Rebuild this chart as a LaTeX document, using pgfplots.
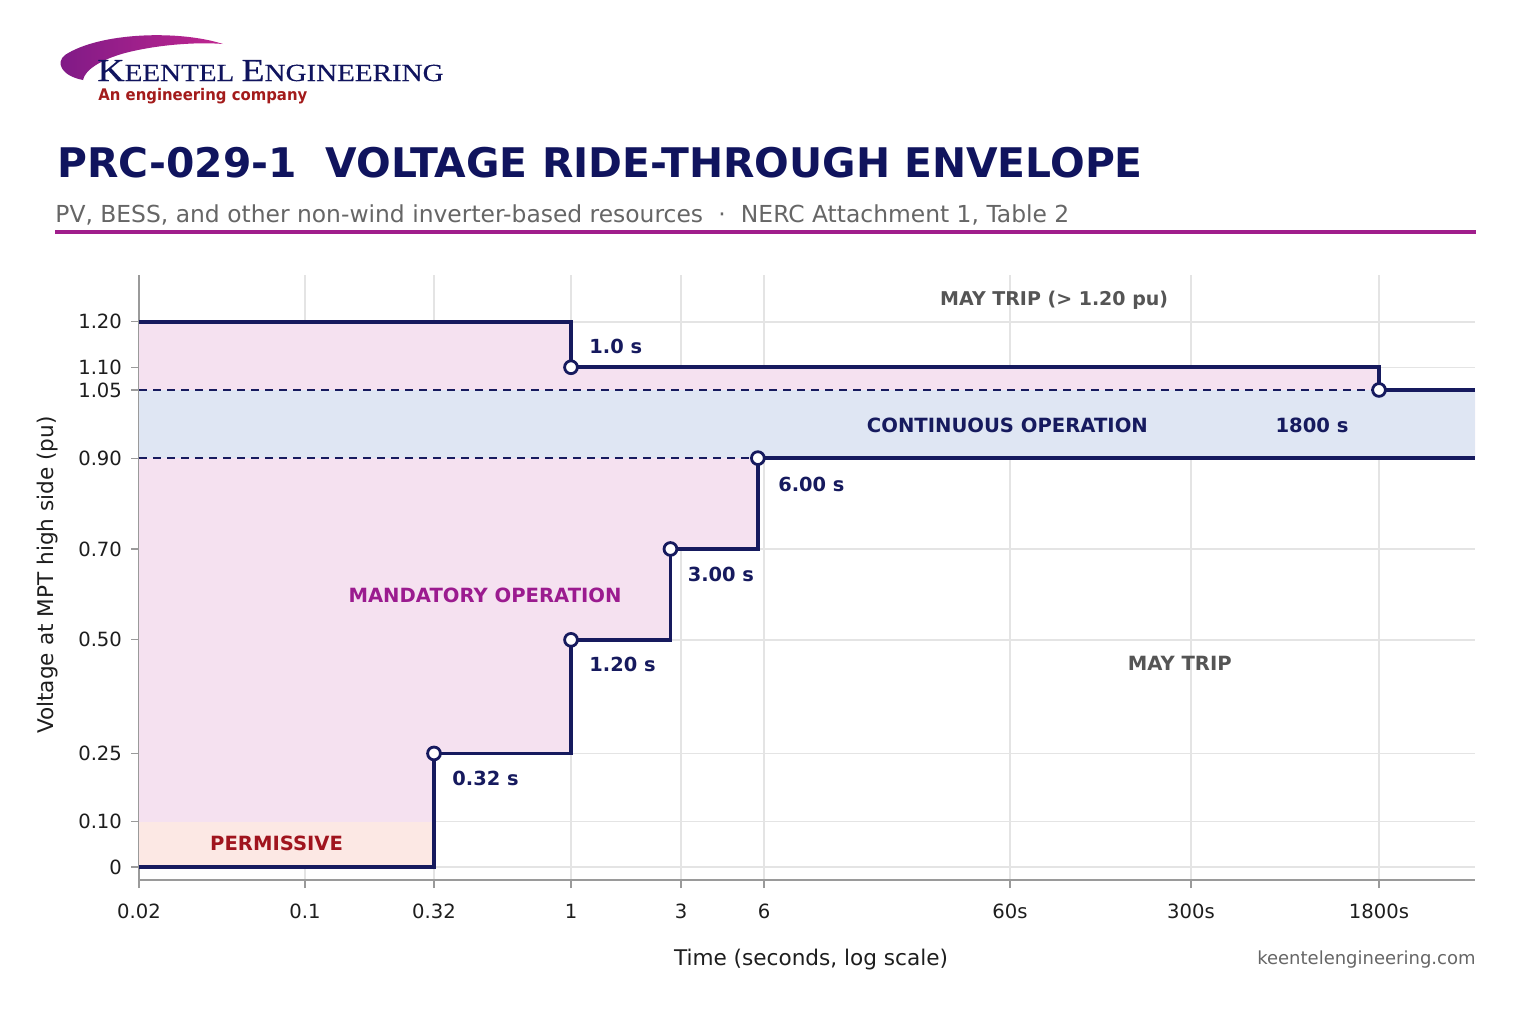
\documentclass[border=0pt]{standalone}
\usepackage{pgfplots}
\pgfplotsset{compat=1.18}
\usepackage{graphicx}
\usepackage{fontspec}
\setmainfont{DejaVu Sans}
\newfontfamily\logofont[FakeBold=0.35]{Liberation Serif}
\definecolor{navy}{HTML}{161A5E}
\definecolor{titlenavy}{HTML}{10145E}
\definecolor{pinkfill}{HTML}{F5E1F0}
\definecolor{bluefill}{HTML}{DFE6F3}
\definecolor{peachfill}{HTML}{FCE8E4}
\definecolor{gridgray}{HTML}{E4E4E4}
\definecolor{spinegray}{HTML}{9A9A9A}
\definecolor{ticktext}{HTML}{1E1E1E}
\definecolor{subgray}{HTML}{666666}
\definecolor{tripgray}{HTML}{555555}
\definecolor{mandpurple}{HTML}{9B1B8F}
\definecolor{permred}{HTML}{A0141E}
\definecolor{magline}{HTML}{A01E8C}
\definecolor{swooshA}{HTML}{7E1A86}
\definecolor{swooshB}{HTML}{C02690}
\definecolor{logored}{HTML}{A31B1B}
\newcommand\lbl{\fontsize{9.8}{11}\selectfont\bfseries}
\newcommand\slbl{\fontsize{9.7}{11}\selectfont\bfseries}
\pgfplotsset{
  layers/mylayers/.define layer set={axis background,axis grid,main,axis ticks,axis lines,axis tick labels,axis descriptions,axis foreground}{},
}
% time axis as drawn in the reference: log scale, piecewise between the labelled ticks
\newcommand\timetrafo[1]{%
  \begingroup
  \pgfkeys{/pgf/fpu=true,/pgf/fpu/output format=fixed}%
  \pgfmathparse{ln(#1)/ln(10)}%
  \xdef\kTLg{\pgfmathresult}%
  \endgroup
  \begingroup
  \pgfkeys{/pgf/fpu=false}%
  \pgfmathsetmacro\kTL{\kTLg}%
  \pgfmathsetmacro\kTP{\kTL<-1 ? 139+(\kTL+1.69897)*166/0.69897 :
    (\kTL<-0.49485 ? 305+(\kTL+1)*129/0.50515 :
    (\kTL<0 ? 434+(\kTL+0.49485)*137/0.49485 :
    (\kTL<0.47712 ? 571+\kTL*110/0.47712 :
    (\kTL<0.77815 ? 681+(\kTL-0.47712)*83/0.30103 :
    (\kTL<1.77815 ? 764+(\kTL-0.77815)*246 :
    (\kTL<2.47712 ? 1010+(\kTL-1.77815)*181/0.69897 :
     1191+(\kTL-2.47712)*188/0.77815))))))}%
  \xdef\kTglobal{\kTP}%
  \endgroup
  \let\pgfmathresult\kTglobal
}
\begin{document}
\begin{tikzpicture}
\fill[white] (0,0) rectangle (768pt,-512pt);

\begin{scope}[x=0.5pt,y=-0.5pt]
  % logo swoosh
  \shade[left color=swooshA, right color=swooshB]
    (223,44) .. controls (180,30) and (100,32) .. (65,55)
    .. controls (55,63) and (62,76) .. (83,80)
    .. controls (85,70) and (100,60) .. (125,53)
    .. controls (160,44) and (200,42) .. (223,44) -- cycle;
  \node[anchor=base west, inner sep=0, text=titlenavy] at (97,81)
    {\scalebox{1.18}[1]{\logofont\fontsize{16}{18}\selectfont K\fontsize{12.3}{14}\selectfont EENTEL \fontsize{16}{18}\selectfont E\fontsize{12.3}{14}\selectfont NGINEERING}};
  \node[anchor=base west, inner sep=0, text=logored] at (98,100)
    {\scalebox{0.93}[1]{\fontsize{8}{10}\selectfont\bfseries An engineering company}};
  % title
  \node[anchor=base west, inner sep=0, text=titlenavy, font=\fontsize{20.4}{24}\selectfont\bfseries] at (57,177)
    {PRC-029-1\ \ VOLTAGE RIDE-THROUGH ENVELOPE};
  \node[anchor=base west, inner sep=0, text=subgray, font=\fontsize{11.7}{14}\selectfont] at (55,222)
    {PV, BESS, and other non-wind inverter-based resources\hspace{0.65em}·\hspace{0.65em}NERC Attachment 1, Table 2};
  \draw[magline, line width=2pt] (55,232) -- (1476,232);
  \node[anchor=base east, inner sep=0, text=subgray, font=\fontsize{9}{11}\selectfont] at (1476,964)
    {keentelengineering.com};
\end{scope}

\begin{axis}[
  set layers=mylayers,
  at={(69.5pt,-440pt)}, anchor=south west,
  scale only axis, width=668pt, height=302.5pt,
  x coord trafo/.code={\timetrafo{#1}},
  xmin=0.02, xmax=4494,
  ymin=-0.0286, ymax=1.303,
  axis x line*=bottom, axis y line*=left,
  axis line style={draw=spinegray, line width=0.6pt, -},
  xtick={0.02,0.1,0.32,1,3,6,60,300,1800},
  xticklabels={0.02,0.1,0.32,1,3,6,60s,300s,1800s},
  ytick={0,0.10,0.25,0.50,0.70,0.90,1.05,1.10,1.20},
  yticklabels={0,0.10,0.25,0.50,0.70,0.90,1.05,1.10,1.20},
  xminorticks=false, yminorticks=false,
  tick align=outside, major tick length=4pt,
  tick style={draw=spinegray, line width=0.6pt},
  xmajorgrids, ymajorgrids,
  grid style={draw=gridgray, line width=0.7pt},
  ticklabel style={font=\fontsize{9.8}{11}\selectfont, text=ticktext},
  xticklabel style={anchor=base, yshift=-15pt},
  yticklabel style={anchor=east, xshift=-1pt},
  xlabel={Time (seconds, log scale)},
  ylabel={Voltage at MPT high side (pu)},
  label style={font=\fontsize{10.8}{13}\selectfont, text=ticktext},
  xlabel style={at={(axis description cs:0.503,-0.131)}, anchor=center},
  ylabel style={at={(axis description cs:-0.0681,0.504)}, anchor=center},
]
% regions
\addplot[fill=pinkfill, draw=none] coordinates {(0.02,0) (0.32,0) (0.32,0.25) (1,0.25) (1,0.5) (2.7,0.5) (2.7,0.7) (5.7,0.7) (5.7,0.9) (4494,0.9) (4494,1.05) (1800,1.05) (1800,1.10) (1,1.10) (1,1.20) (0.02,1.20)} -- cycle;
\addplot[fill=bluefill, draw=none] coordinates {(0.02,0.90) (4494,0.90) (4494,1.05) (0.02,1.05)} -- cycle;
\addplot[fill=peachfill, draw=none] coordinates {(0.02,0) (0.32,0) (0.32,0.10) (0.02,0.10)} -- cycle;
% dashed limits
\addplot[navy, line width=0.75pt, dash pattern=on 4pt off 3pt] coordinates {(0.02,1.05) (1800,1.05)};
\addplot[navy, line width=0.75pt, dash pattern=on 4pt off 3pt] coordinates {(0.02,0.90) (5.7,0.90)};
% envelopes
\addplot[navy, line width=1.8pt] coordinates {(0.02,0) (0.32,0) (0.32,0.25) (1,0.25) (1,0.5) (2.7,0.5) (2.7,0.7) (5.7,0.7) (5.7,0.9) (4494,0.9)};
\addplot[navy, line width=1.8pt] coordinates {(0.02,1.20) (1,1.20) (1,1.10) (1800,1.10) (1800,1.05) (4494,1.05)};
% breakpoints
\addplot[only marks, mark=*, mark size=3.2pt, mark options={fill=white, draw=navy, line width=1.4pt}] coordinates {(0.32,0.25) (1,0.5) (2.7,0.7) (5.7,0.9) (1,1.10) (1800,1.05)};
% labels
\node[anchor=base west, font=\slbl, text=navy, inner sep=0, xshift=9pt, yshift=7pt] at (axis cs:1,1.10) {1.0 s};
\node[anchor=base west, font=\slbl, text=navy, inner sep=0, xshift=10pt, yshift=-16.5pt] at (axis cs:5.7,0.9) {6.00 s};
\node[anchor=base west, font=\slbl, text=navy, inner sep=0, xshift=8.5pt, yshift=-16.5pt] at (axis cs:2.7,0.7) {3.00 s};
\node[anchor=base west, font=\slbl, text=navy, inner sep=0, xshift=9pt, yshift=-16pt] at (axis cs:1,0.5) {1.20 s};
\node[anchor=base west, font=\slbl, text=navy, inner sep=0, xshift=9pt, yshift=-16pt] at (axis cs:0.32,0.25) {0.32 s};
\node[anchor=base, font=\fontsize{9.5}{11}\selectfont\bfseries, text=tripgray, inner sep=0] at (rel axis cs:0.685,0.950) {MAY TRIP (> 1.20 pu)};
\node[anchor=base, font=\lbl, text=navy, inner sep=0] at (rel axis cs:0.650,0.7405) {CONTINUOUS OPERATION};
\node[anchor=base, font=\lbl, text=navy, inner sep=0] at (rel axis cs:0.878,0.739) {1800 s};
\node[anchor=base, font=\lbl, text=mandpurple, inner sep=0] at (rel axis cs:0.259,0.458) {MANDATORY OPERATION};
\node[anchor=base, font=\lbl, text=permred, inner sep=0] at (rel axis cs:0.103,0.0496) {PERMISSIVE};
\node[anchor=base, font=\lbl, text=tripgray, inner sep=0] at (rel axis cs:0.779,0.347) {MAY TRIP};
\end{axis}
\end{tikzpicture}
\end{document}
